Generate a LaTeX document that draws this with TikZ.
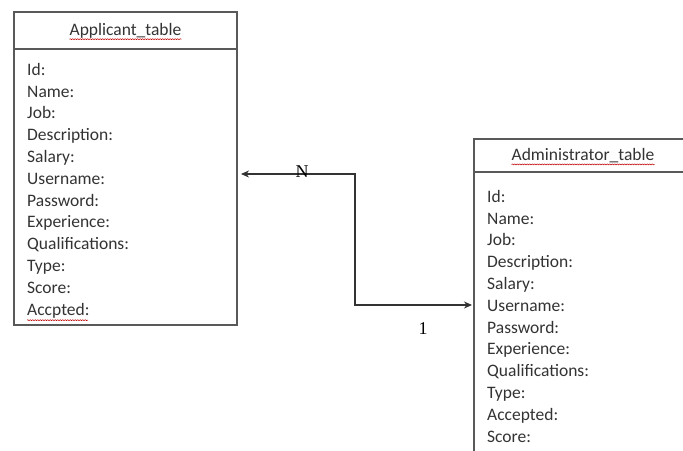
\documentclass[tikz,border=0pt]{standalone}
\usepackage{fontspec}
\setmainfont{Carlito}
\newfontfamily\numfont{Liberation Serif}
\usetikzlibrary{positioning,arrows.meta,decorations.pathmorphing}

\begin{document}
\begin{tikzpicture}[x=1pt,y=-1pt]
	\tikzstyle{every node}=[font=\fontsize{17.5}{21.8}\selectfont]
	\tikzstyle{tablebox}=[draw=black!65, line width=1.3pt, outer sep=0pt]
	\tikzstyle{fieldlist}=[align=left, anchor=north west, inner sep=0pt, text=black!80]
	\tikzstyle{spell}=[draw=red!75!black, line width=0.5pt, decorate, decoration={snake,amplitude=0.5pt,segment length=2.5pt}]
	\tikzstyle{link}=[draw=black!80, line width=1.1pt, {Stealth[length=8pt,width=7pt]}-{Stealth[length=8pt,width=7pt]}]
	\tikzstyle{card}=[font=\numfont\fontsize{18}{20}\selectfont, inner sep=0pt]
	\clip (0,0) rectangle (683,450);
	% applicant table
	\node [tablebox, minimum width=223pt, minimum height=37pt, anchor=north west] (apphead) at (14,12) {};
	\node [tablebox, minimum width=223pt, minimum height=276pt, below=0pt of apphead] (appbody) {};
	\node [inner sep=0pt, text=black!80] (apptitle) at (apphead) {Applicant\_table};
	\draw [spell] ([yshift=-4pt]apptitle.base west) -- ([yshift=-4pt]apptitle.base east);
	\node [fieldlist] (appfields) at ([xshift=13pt,yshift=-14pt]appbody.north west)
		{Id:\\Name:\\Job:\\Description:\\Salary:\\Username:\\Password:\\Experience:\\Qualifications:\\Type:\\Score:\\Accpted:};
	\draw [spell] ([yshift=-2pt]appfields.south west) -- ++(61,0);
	% administrator table
	\node [tablebox, minimum width=218pt, minimum height=33pt, anchor=north west] (admhead) at (474,139) {};
	\node [tablebox, minimum width=218pt, minimum height=290pt, below=0pt of admhead] (admbody) {};
	\node [inner sep=0pt, text=black!80] (admtitle) at (admhead) {Administrator\_table};
	\draw [spell] ([yshift=-4pt]admtitle.base west) -- ([yshift=-4pt]admtitle.base east);
	\node [fieldlist] (admfields) at ([xshift=13pt,yshift=-18pt]admbody.north west)
		{Id:\\Name:\\Job:\\Description:\\Salary:\\Username:\\Password:\\Experience:\\Qualifications:\\Type:\\Accepted:\\Score:};
	% relation
	\coordinate (bendtop) at (355,174);
	\coordinate (bendlow) at (355,305);
	\draw [link, shorten <=4pt, shorten >=2pt] (bendtop -| appbody.east) -- (bendtop) -- (bendlow) -- (bendlow -| admbody.west);
	\node [card] (many) at (302,172) {N};
	\node [card] (one) at (423,329) {1};
\end{tikzpicture}
\end{document}
